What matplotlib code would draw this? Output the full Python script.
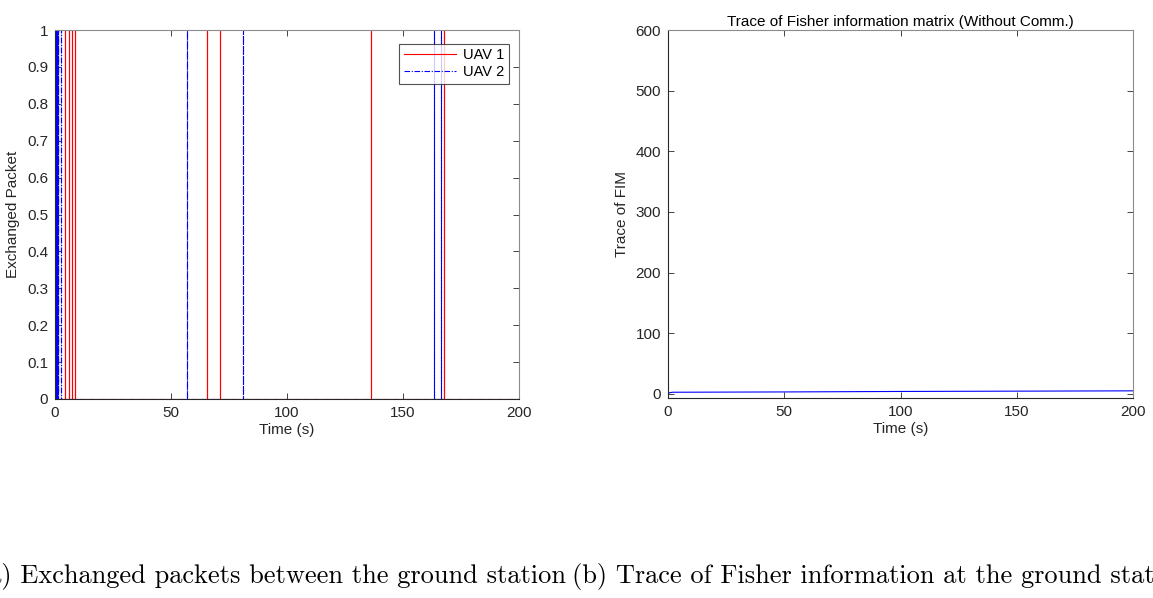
import matplotlib
matplotlib.use("Agg")
import matplotlib.pyplot as plt
import numpy as np

# ---- data ----
uav1_events = [4.4, 6.2, 7.3, 8.75, 65.4, 71.1, 136.2, 167.8]
uav2_events = [0.0, 0.3, 0.6, 0.9, 1.2, 1.5, 2.4, 56.8, 80.9, 163.5, 166.4]
fim_time = [0, 1, 2, 50, 100, 150, 200]
fim_trace = [0.5, 2.0, 2.5, 3.0, 3.8, 4.3, 4.8]

xticks = [0, 50, 100, 150, 200]
left_yticks = [0, 0.1, 0.2, 0.3, 0.4, 0.5, 0.6, 0.7, 0.8, 0.9, 1]
left_yticklabels = ["0", "0.1", "0.2", "0.3", "0.4", "0.5", "0.6", "0.7", "0.8", "0.9", "1"]
right_yticks = [0, 100, 200, 300, 400, 500, 600]

caption_a = "(a) Exchanged packets between the ground station"
caption_b = "(b) Trace of Fisher information at the ground station"

plt.rcParams['font.family'] = ['Liberation Sans', 'DejaVu Sans']

W, H = 1153, 598
fig = plt.figure(figsize=(W / 100, H / 100), dpi=100)

def px_axes(l, t, r, b):
    return fig.add_axes([l / W, 1 - b / H, (r - l) / W, (b - t) / H])

edge = '#262626'

def style(ax):
    for s in ax.spines.values():
        s.set_color('#8c8c8c')
        s.set_linewidth(0.8)
    ax.spines['left'].set_color(edge)
    ax.spines['bottom'].set_color(edge)
    ax.tick_params(direction='in', top=True, right=True, length=4,
                   width=0.6, colors=edge, labelsize=11, pad=5)

def spikes(events, T=200.0):
    xs, ys = [0.0], [0.0]
    for t in events:
        xs += [t, t, t]
        ys += [0.0, 1.0, 0.0]
    xs.append(T)
    ys.append(0.0)
    return xs, ys

# ---- left axes ----
ax1 = px_axes(55, 30, 519, 399)
x1, y1 = spikes(uav1_events)
x2, y2 = spikes(uav2_events)
ax1.plot(x1, y1, color=(1, 0, 0), lw=0.8, label='UAV 1')
ax1.plot(x2, y2, color=(0, 0, 1), lw=0.8, dashes=(5, 1.5, 1, 1.5), label='UAV 2')
ax1.set_xlim(0, 200)
ax1.set_ylim(0, 1)
ax1.set_xticks(xticks)
ax1.set_yticks(left_yticks)
ax1.set_yticklabels(left_yticklabels)
ax1.set_xlabel('Time (s)', fontsize=11, color=edge, labelpad=2)
ax1.set_ylabel('Exchanged Packet', fontsize=11, color=edge, labelpad=5)
style(ax1)
leg = ax1.legend(loc='upper right', bbox_to_anchor=(0.985, 0.97), fontsize=10.5,
                 handlelength=3.6, frameon=True, fancybox=False,
                 borderpad=0.3, labelspacing=0.2, handletextpad=0.5,
                 borderaxespad=0.2)
leg.get_frame().set_edgecolor(edge)
leg.get_frame().set_linewidth(0.8)

# ---- right axes ----
ax2 = px_axes(668, 30, 1133, 398)
ax2.plot(fim_time, fim_trace, color=(0, 0, 1), lw=0.8)
ax2.set_xlim(0, 200)
ax2.set_ylim(-7, 600)
ax2.set_xticks(xticks)
ax2.set_yticks(right_yticks)
ax2.set_xlabel('Time (s)', fontsize=11, color=edge, labelpad=2)
ax2.set_ylabel('Trace of FIM', fontsize=11, color=edge, labelpad=5)
ax2.set_title('Trace of Fisher information matrix (Without Comm.)',
              fontsize=11, color='black', pad=3)
style(ax2)

# ---- captions ----
fig.text(566 / W, 1 - 577 / H, caption_a, family='cmr10', fontsize=19,
         ha='right', va='center')
fig.text(572 / W, 1 - 577 / H, caption_b, family='cmr10', fontsize=19,
         ha='left', va='center')

fig.savefig('out.png', dpi=100)
